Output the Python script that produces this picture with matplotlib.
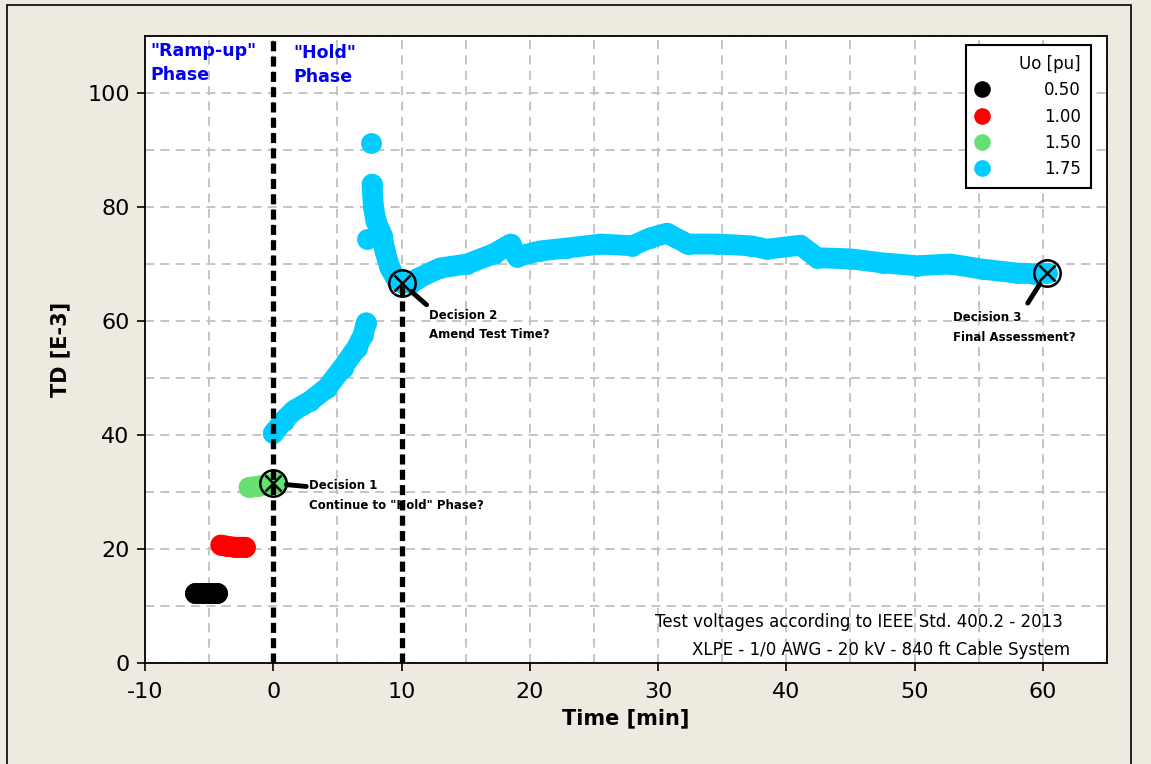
import numpy as np
import matplotlib
matplotlib.use("Agg")
import matplotlib.pyplot as plt
from matplotlib.patches import Rectangle
from matplotlib.ticker import MultipleLocator

# Tan delta readings per test voltage level (time in min, TD in E-3)
t_050 = [-6.1, -5.5, -5.0, -4.4]
td_050 = [12.3, 12.3, 12.3, 12.3]

t_100 = [-4.1, -3.6, -3.0, -2.6, -2.2]
td_100 = [20.7, 20.5, 20.3, 20.3, 20.3]

t_150 = [-1.9, -1.2, -0.5, 0.3]
td_150 = [30.8, 31.0, 31.3, 31.6]

# 1.75 Uo: ramp, isolated spike readings, then the hold trace (nan = break in trace)
t_175 = [0.0, 0.8, 1.6, 2.9, 4.2, 5.4, 6.5, 7.0, 7.25, np.nan,
         7.6, np.nan, 7.3, np.nan,
         7.7, 7.8, 8.0, 8.5, 8.7, 9.1, 9.6, 10.0, 10.7, 11.2, 13.0, 15.1,
         17.2, 18.5, 19.0, 20.8, 22.9, 25.5, 28.0, 29.4, 30.7, 32.3, 34.6,
         37.2, 38.5, 41.1, 42.4, 45.0, 47.5, 50.2, 52.8, 55.3, 58.0, 59.3, 60.3]
td_175 = [40.3, 42.5, 44.3, 46.0, 48.3, 51.8, 55.3, 57.5, 59.7, np.nan,
          91.2, np.nan, 74.4, np.nan,
          84.0, 80.2, 77.5, 75.0, 72.3, 69.3, 67.3, 66.7, 66.7, 67.4, 69.3, 70.0,
          71.8, 73.5, 71.3, 72.3, 72.8, 73.5, 73.2, 74.6, 75.4, 73.5, 73.5,
          73.2, 72.6, 73.3, 71.1, 70.9, 70.2, 69.7, 70.0, 69.1, 68.4, 68.3, 68.4]

series = [
    ("0.50", t_050, td_050, "black"),
    ("1.00", t_100, td_100, "#ff0000"),
    ("1.50", t_150, td_150, "#66e070"),
    ("1.75", t_175, td_175, "#00ccff"),
]

decision_t = [0.0, 10.0, 60.3]
decision_td = [31.5, 66.7, 68.4]
decision_text = ["Decision 1\nContinue to \"Hold\" Phase?",
                 "Decision 2\nAmend Test Time?",
                 "Decision 3\nFinal Assessment?"]

plt.rcParams['font.family'] = ['DejaVu Sans']
plt.rcParams['axes.unicode_minus'] = False

W, H = 1151, 764
fig = plt.figure(figsize=(W / 100, H / 100), dpi=100, facecolor="#eeeae0")
# outer frame of the graph window
fig.patches.append(Rectangle((7 / W, -0.1), (1131 - 7) / W, 1.1 - 5 / H,
                             transform=fig.transFigure, fill=False,
                             edgecolor="black", lw=1.2))

ax = fig.add_axes([145 / W, 101 / H, (1107 - 145) / W, (663 - 36) / H])
ax.set_facecolor("white")

ms = 15
for label, t, td, color in series:
    ax.plot(t, td, color=color, lw=ms, solid_capstyle="round",
            solid_joinstyle="round", zorder=3)
    ax.plot(t, td, "o", color=color, ms=ms, mec="none", label=label, zorder=3)

# phase boundaries
ax.plot([0, 0], [0, 110], color="black", lw=3.8, dashes=(1.9, 1.0), zorder=4)
ax.plot([10, 10], [0, decision_td[1]], color="black", lw=3.8, dashes=(1.9, 1.0), zorder=4)

# decision markers with leader lines
ax.plot(decision_t, decision_td, "o", ms=19, mfc="none", mec="black", mew=1.8, zorder=5)
ax.plot(decision_t, decision_td, "x", ms=11, color="black", mew=1.8, zorder=5)

leader_ends = [(33, -3), (25, -22), (-19, -30)]
text_offsets = [(36, 4), (27, -26), (-94, -38)]
for t, td, txt, le, to in zip(decision_t, decision_td, decision_text, leader_ends, text_offsets):
    ax.annotate("", xy=(t, td), xytext=le, textcoords="offset pixels",
                arrowprops=dict(arrowstyle="-", lw=3.5, color="black",
                                shrinkA=0, shrinkB=9.5), zorder=5)
    ax.annotate(txt, xy=(t, td), xytext=to, textcoords="offset pixels",
                ha="left", va="top", fontsize=8.5, fontweight="bold",
                linespacing=1.65, zorder=6)

ax.text(150 / W, (H - 42) / H, "\"Ramp-up\"\nPhase", transform=fig.transFigure,
        color="#0000ee", fontsize=12.5, fontweight="bold", va="top", linespacing=1.45)
ax.text(293 / W, (H - 44) / H, "\"Hold\"\nPhase", transform=fig.transFigure,
        color="#0000ee", fontsize=12.5, fontweight="bold", va="top", linespacing=1.45)

ax.set_xlim(-10, 65)
ax.set_ylim(0, 110)
ax.xaxis.set_major_locator(MultipleLocator(10))
ax.xaxis.set_minor_locator(MultipleLocator(5))
ax.yaxis.set_major_locator(MultipleLocator(20))
ax.yaxis.set_minor_locator(MultipleLocator(10))
ax.set_xticks(np.arange(-10, 61, 10))
ax.set_yticks(np.arange(0, 101, 20))
ax.grid(True, which="both", color="#c0c0c0", lw=1.3, dashes=(5, 3.5), zorder=0)
ax.set_axisbelow(True)
ax.tick_params(which="major", length=6, width=1.2, labelsize=16, pad=5)
ax.tick_params(axis="x", which="major", pad=8)
ax.tick_params(which="minor", length=0)
for s in ax.spines.values():
    s.set_linewidth(1.3)

ax.set_xlabel("Time [min]", fontsize=15, fontweight="bold", labelpad=4)
ax.set_ylabel("TD [E-3]", fontsize=15, fontweight="bold", labelpad=12)

ax.text(1063 / W, 142 / H, "Test voltages according to IEEE Std. 400.2 - 2013",
        transform=fig.transFigure, ha="right", va="center", fontsize=12)
ax.text(1070 / W, 114 / H, "XLPE - 1/0 AWG - 20 kV - 840 ft Cable System",
        transform=fig.transFigure, ha="right", va="center", fontsize=12)

handles, labels = ax.get_legend_handles_labels()
leg = ax.legend(handles, labels, title="Uo [pu]", loc="upper right",
                bbox_to_anchor=(1091 / W, (H - 45) / H), bbox_transform=fig.transFigure,
                fancybox=False, edgecolor="black", framealpha=1, fontsize=12,
                title_fontsize=12, alignment="right", markerscale=0.8,
                handlelength=0.8, handletextpad=3.3, labelspacing=0.5,
                borderpad=0.6, borderaxespad=0)
leg.get_frame().set_linewidth(1.5)
leg.set_zorder(10)

fig.savefig("out.png", dpi=100, facecolor=fig.get_facecolor())
